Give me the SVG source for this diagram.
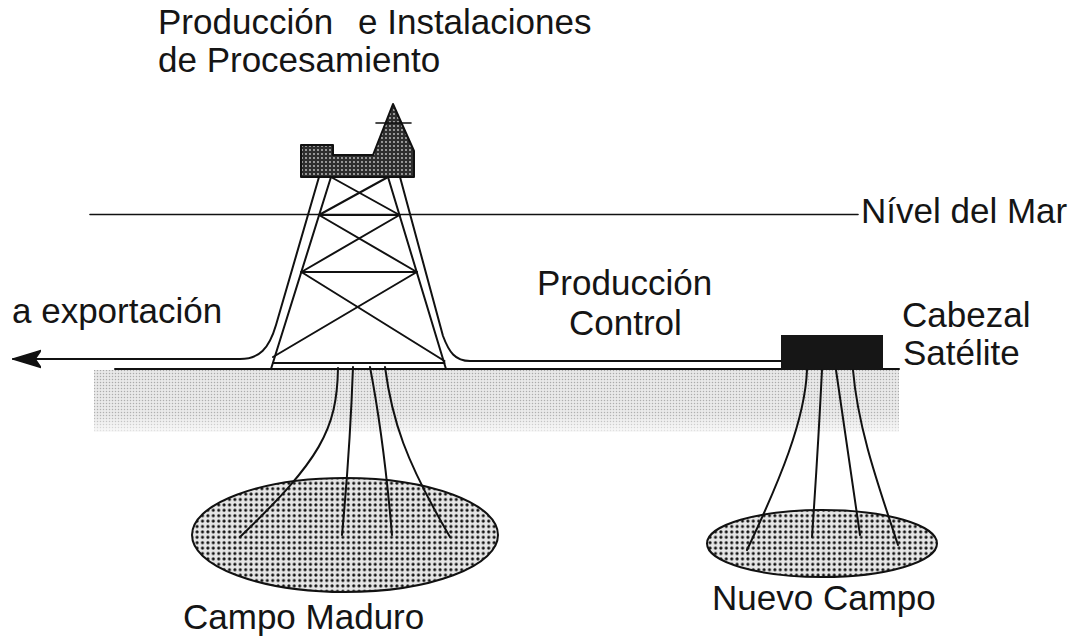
<svg xmlns="http://www.w3.org/2000/svg" width="1071" height="638" viewBox="0 0 1071 638">
  <style>
    .ln { fill: none; stroke: #111; stroke-width: 2; stroke-linecap: round; stroke-linejoin: round; }
    .thin { fill: none; stroke: #111; stroke-width: 1.6; stroke-linecap: round; }
    .lbl { font-family: "Liberation Sans", Arial, sans-serif; font-size: 35px; fill: #151515; }
  </style>
  <defs>
    <!-- dark halftone for the topside modules -->
    <pattern id="deckDots" width="4" height="4" patternUnits="userSpaceOnUse">
      <rect width="4" height="4" fill="#2e2e2e"/>
      <circle cx="2" cy="2" r="0.9" fill="#c8c8c8"/>
    </pattern>
    <!-- dotted fill for the reservoirs -->
    <pattern id="resDots" width="5.4" height="5.4" patternUnits="userSpaceOnUse">
      <rect width="5.4" height="5.4" fill="#e6e6e6"/>
      <circle cx="2.7" cy="2.7" r="1.55" fill="#111"/>
    </pattern>
    <!-- light stipple for the seabed band -->
    <pattern id="soilDots" width="3" height="3" patternUnits="userSpaceOnUse">
      <rect width="3" height="3" fill="#e8e8e8"/>
      <circle cx="1.5" cy="1.5" r="0.75" fill="#a8a8a8"/>
    </pattern>
    <linearGradient id="soilFade" x1="0" y1="0" x2="0" y2="1">
      <stop offset="0" stop-color="#fff" stop-opacity="1"/>
      <stop offset="0.7" stop-color="#fff" stop-opacity="0.9"/>
      <stop offset="1" stop-color="#fff" stop-opacity="0.2"/>
    </linearGradient>
    <mask id="soilMask">
      <rect x="90" y="369" width="815" height="66" fill="url(#soilFade)"/>
    </mask>
    <marker id="arrow" markerUnits="userSpaceOnUse" markerWidth="30" markerHeight="20" viewBox="0 0 30 20" refX="28" refY="10" orient="auto">
      <path d="M0,1.5 L28,10 L0,18.5 L6,10 Z" fill="#111" stroke="#111" stroke-width="1.5" stroke-linejoin="round"/>
    </marker>
  </defs>

  <rect width="1071" height="638" fill="#fff"/>

  <!-- seabed band and mudline -->
  <g id="seabed">
    <rect x="94" y="370" width="805" height="62" fill="url(#soilDots)" mask="url(#soilMask)"/>
    <line class="ln" x1="115" y1="369" x2="899" y2="369"/>
  </g>

  <!-- sea level -->
  <g id="sea-level">
    <line class="thin" x1="90" y1="214.5" x2="858" y2="214.5"/>
  </g>

  <!-- reservoirs -->
  <g id="campo-maduro">
    <ellipse cx="345" cy="535" rx="153" ry="57" fill="url(#resDots)" stroke="#111" stroke-width="2"/>
  </g>
  <g id="nuevo-campo">
    <ellipse cx="822" cy="543.5" rx="115" ry="33.5" fill="url(#resDots)" stroke="#111" stroke-width="2"/>
  </g>

  <!-- fixed platform: jacket and topsides -->
  <g id="plataforma">
    <g id="jacket">
      <line class="ln" x1="331" y1="177" x2="271" y2="369"/>
      <line class="ln" x1="388" y1="177" x2="446" y2="369"/>
      <line class="ln" x1="319" y1="215" x2="399.5" y2="215"/>
      <line class="ln" x1="301.4" y1="272" x2="416.8" y2="272"/>
      <line class="ln" x1="273" y1="363" x2="444.5" y2="363"/>
      <line class="ln" x1="331" y1="177" x2="399.5" y2="215"/>
      <line class="ln" x1="388" y1="177" x2="319" y2="215"/>
      <line class="ln" x1="319" y1="215" x2="416.8" y2="272"/>
      <line class="ln" x1="399.5" y1="215" x2="301.4" y2="272"/>
      <line class="ln" x1="301.4" y1="272" x2="444.5" y2="361"/>
      <line class="ln" x1="416.8" y1="272" x2="273" y2="357"/>
    </g>
    <g id="topsides">
      <path d="M301,145 L333,145 L333,155 L373,155 L393,104 L414,151 L414,177 L301,177 Z" fill="url(#deckDots)" stroke="#111" stroke-width="2" stroke-linejoin="round"/>
      <line class="thin" x1="376" y1="123" x2="411" y2="123"/>
    </g>
  </g>

  <!-- subsea satellite wellhead -->
  <g id="cabezal-satelite">
    <rect x="781" y="335" width="102" height="35" fill="#161616"/>
  </g>

  <!-- pipelines, risers and wells -->
  <g id="conectores">
    <path id="exportacion" class="ln" d="M319,177 L276,325 C269,349 259,359 240,359 L13,359" marker-end="url(#arrow)"/>
    <path id="produccion-control" class="ln" d="M400,177 L443,336 C449,352 455,361 470,361 L781,361"/>
    <g id="pozos-maduro">
      <path class="ln" d="M338,368 C337,430 320,460 240,537"/>
      <path class="ln" d="M353,367 Q350,450 342,535"/>
      <path class="ln" d="M370,367 Q384,440 392,535"/>
      <path class="ln" d="M385,367 C392,420 405,460 450,537"/>
    </g>
    <g id="pozos-nuevo">
      <path class="ln" d="M807,370 C805,420 780,480 747,550"/>
      <path class="ln" d="M822,370 Q818,450 812,537"/>
      <path class="ln" d="M836,370 Q848,450 860,535"/>
      <path class="ln" d="M853,370 C858,430 880,490 898,545"/>
    </g>
  </g>

  <!-- labels -->
  <g id="etiquetas">
    <text class="lbl" y="34"><tspan x="158">Producción</tspan><tspan x="358">e Instalaciones</tspan></text>
    <text class="lbl" x="158" y="72">de Procesamiento</text>
    <text class="lbl" x="861" y="223">Nível del Mar</text>
    <text class="lbl" x="12" y="323">a exportación</text>
    <text class="lbl" x="537" y="295">Producción</text>
    <text class="lbl" x="569" y="335">Control</text>
    <text class="lbl" x="902" y="327">Cabezal</text>
    <text class="lbl" x="903" y="365">Satélite</text>
    <text class="lbl" x="183" y="629">Campo Maduro</text>
    <text class="lbl" x="712" y="610">Nuevo Campo</text>
  </g>
</svg>
